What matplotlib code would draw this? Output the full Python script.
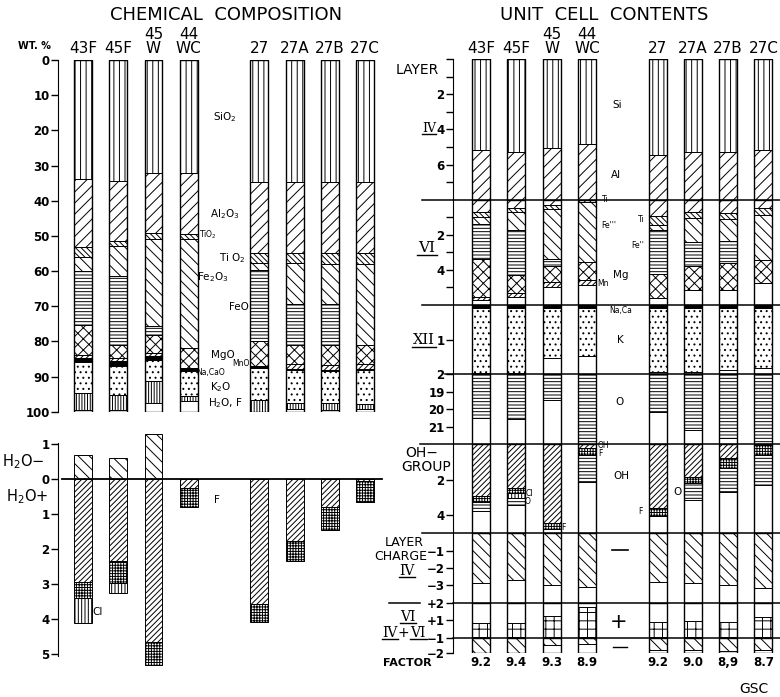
import matplotlib.pyplot as plt
import numpy as np
from matplotlib.ticker import FuncFormatter

W, H = 780, 697

samples = ['43F', '45F', '45\nW', '44\nWC', '27', '27A', '27B', '27C']
xpos = [0, 1, 2, 3, 5, 6, 7, 8]
factor = ['9.2', '9.4', '9.3', '8.9', '9.2', '9.0', '8,9', '8.7']

# chemical composition, wt. % (thickness of each oxide, top to bottom)
sio2 = [33.8, 34.3, 32.1, 32.2, 34.6, 34.7, 34.7, 34.7]
al2o3 = [19.5, 17.1, 17.2, 17.3, 20.2, 20.1, 20.1, 20.1]
tio2 = [2.7, 1.5, 1.7, 1.5, 2.8, 3.0, 3.1, 3.2]
fe2o3 = [4.0, 8.5, 24.5, 30.9, 2.2, 11.7, 11.6, 23.1]
feo = [15.4, 19.7, 2.6, 0.0, 20.2, 11.6, 11.6, 0.0]
mgo = [8.4, 3.7, 5.2, 5.8, 6.9, 5.4, 5.6, 5.4]
mno = [0.8, 0.9, 1.0, 0.3, 0.0, 1.3, 1.4, 1.3]
naca_o = [1.3, 1.4, 1.1, 0.5, 0.7, 0.3, 0.3, 0.3]
k2o = [8.9, 8.1, 6.0, 7.1, 9.1, 9.5, 9.0, 9.6]
h2o_f = [4.7, 4.3, 6.0, 1.4, 3.3, 1.7, 2.1, 1.5]

# water, fluorine, chlorine (wt. %)
h2o_minus = [0.70, 0.61, 1.28, 0.0, 0.0, 0.0, 0.0, 0.0]
h2o_plus = [2.93, 2.33, 4.67, 0.27, 3.57, 1.77, 0.79, 0.07]
fluorine = [0.48, 0.65, 0.64, 0.54, 0.51, 0.56, 0.67, 0.58]
chlorine = [0.71, 0.29, 0.0, 0.0, 0.0, 0.0, 0.0, 0.0]

# unit cell contents
si = [5.18, 5.31, 5.05, 4.84, 5.43, 5.28, 5.28, 5.18]
al_iv = [2.82, 2.69, 2.95, 3.16, 2.57, 2.72, 2.72, 2.82]
al_vi = [0.67, 0.47, 0.31, 0.0, 0.95, 0.67, 0.78, 0.47]
ti = [0.32, 0.25, 0.19, 0.15, 0.47, 0.37, 0.32, 0.38]
fe3 = [0.38, 0.99, 2.90, 3.40, 0.29, 1.36, 1.27, 2.58]
fe2 = [2.00, 2.56, 0.38, 0.0, 2.55, 1.35, 1.23, 0.0]
mg = [2.16, 1.02, 0.89, 1.05, 1.33, 1.37, 1.52, 1.33]
mn = [0.20, 0.25, 0.28, 0.26, 0.0, 0.0, 0.0, 0.0]
na_ca = [0.10, 0.10, 0.10, 0.10, 0.10, 0.10, 0.10, 0.10]
k = [1.87, 1.87, 1.44, 1.37, 1.83, 1.82, 1.78, 1.73]
oxygen = [2.53, 2.59, 1.48, 4.0, 2.18, 3.20, 3.68, 4.0]
oh = [2.91, 2.45, 4.40, 0.20, 3.60, 1.83, 0.80, 0.05]
f_oh = [0.32, 0.28, 0.35, 0.40, 0.43, 0.37, 0.56, 0.57]
cl_oh = [0.0, 0.27, 0.0, 0.0, 0.0, 0.0, 0.0, 0.0]
o_oh = [0.50, 0.42, 0.0, 1.51, 0.0, 0.94, 1.31, 1.68]
charge_iv = [-2.85, -2.69, -2.98, -3.08, -2.79, -2.88, -2.98, -3.17]
charge_vi = [0.86, 0.82, 1.24, 1.74, 0.88, 0.97, 0.91, 1.17]
charge_net = [-2.0, -2.0, -1.47, -1.40, -1.79, -1.77, -1.85, -1.77]

plt.rcParams['font.family'] = ['DejaVu Sans']
plt.rcParams['hatch.linewidth'] = 0.7

fig = plt.figure(figsize=(7.8, 6.97), dpi=100)
BW = 0.51
LX = (-0.709, 8.51)
RX = (-0.793, 8.47)


def px_axes(x0, y0, x1, y1):
    return fig.add_axes([x0 / W, 1 - y1 / H, (x1 - x0) / W, (y1 - y0) / H])


def style(ax, xlim, ylim, major, labels, minor=()):
    ax.set_xlim(*xlim)
    ax.set_ylim(*ylim)
    for s in ('top', 'right', 'bottom'):
        ax.spines[s].set_visible(False)
    ax.patch.set_visible(False)
    ax.set_xticks([])
    ax.set_yticks(major)
    ax.set_yticklabels(labels, fontweight='bold')
    ax.set_yticks(minor, minor=True)
    ax.tick_params(axis='y', which='both', direction='out', length=5,
                   width=1, pad=1, labelsize=8.5)


def stack(ax, layers, start=0.0, sign=1):
    base = np.full(len(xpos), start, float)
    for vals, hatch, color in layers:
        v = sign * np.asarray(vals, float)
        ax.bar(xpos, v, bottom=base, width=BW, color=color, hatch=hatch,
               edgecolor='black', linewidth=0.7)
        base = base + v


def outline(ax, lo, hi):
    ax.bar(xpos, hi - lo, bottom=lo, width=BW, fill=False,
           edgecolor='black', linewidth=1.0)


# ---- chemical composition
ax = px_axes(58, 60, 383, 411.7)
style(ax, LX, (100, 0), range(0, 101, 10), [str(v) for v in range(0, 101, 10)])
stack(ax, [(sio2, '|||', 'white'), (al2o3, '///', 'white'),
           (tio2, '\\' * 6, 'white'), (fe2o3, '\\' * 3, 'white'),
           (feo, '-----', 'white'), (mgo, 'xxx', 'white'),
           (mno, '//////', 'white'), (naca_o, '', 'black'),
           (k2o, '...', 'white'), (h2o_f, '||||||', 'white')])
outline(ax, 0, 100)

# ---- water
axw = px_axes(58, 425, 383, 668)
style(axw, LX, (-5.4, 1.543), [1, 0, -1, -2, -3, -4, -5], [])
axw.yaxis.set_major_formatter(FuncFormatter(lambda v, p: f'{abs(v):.0f}'))
for t in axw.get_yticklabels():
    t.set_fontweight('bold')
axw.spines['left'].set_bounds(-5.05, 1.02)
axw.bar(xpos, h2o_minus, width=BW, color='white', hatch='\\' * 3,
        edgecolor='black', linewidth=0.7)
stack(axw, [(h2o_plus, '//////', 'white'), (fluorine, '++++++', 'white'),
            (chlorine, '|||||', 'white')], sign=-1)
axw.axhline(0, 0.012, 0.997, color='black', lw=1.3)

# ---- unit cell contents
sec = {}
layout = [('iv', 59, 199.8, (8, 0), [2, 4, 6], ['2', '4', '6'], [0, 1, 3, 5, 7]),
          ('vi', 199.8, 305, (6, 0), [2, 4], ['2', '4'], [1, 3, 5]),
          ('xii', 305, 374.3, (2, 0), [1, 2], ['1', '2'], []),
          ('o', 374.3, 444, (22, 18), [19, 20, 21], ['19', '20', '21'], []),
          ('oh', 444, 533.3, (5, 0), [2, 4], ['2', '4'], []),
          ('ch', 533.3, 602.7, (-4, 0), [-1, -2, -3], ['\u22121', '\u22122', '\u22123'], []),
          ('vc', 602.7, 637.7, (0, 2), [2, 1], ['+2', '+1'], []),
          ('tc', 637.7, 653.3, (-2, -1), [-1, -2], ['\u22121', '\u22122'], [])]
for name, y0, y1, ylim, major, labels, minor in layout:
    a = px_axes(453, y0, 780, y1)
    style(a, RX, ylim, major, labels, minor)
    sec[name] = a

stack(sec['iv'], [(si, '|||', 'white'), (al_iv, '///', 'white')])
outline(sec['iv'], 0, 8)
stack(sec['vi'], [(al_vi, '///', 'white'), (ti, '\\' * 6, 'white'),
                  (fe3, '\\' * 3, 'white'), (fe2, '-----', 'white'),
                  (mg, 'xxx', 'white'), (mn, '//////', 'white')])
outline(sec['vi'], 0, 6)
stack(sec['xii'], [(na_ca, '', 'black'), (k, '...', 'white')])
outline(sec['xii'], 0, 2)
stack(sec['o'], [(oxygen, '-----', 'white')], start=18)
outline(sec['o'], 18, 22)
stack(sec['oh'], [(oh, '//////', 'white'), (f_oh, '++++++', 'white'),
                  (cl_oh, '|||||', 'white'), (o_oh, '-----', 'white')])
outline(sec['oh'], 0, 5)
sec['ch'].bar(xpos, charge_iv, width=BW, color='white', hatch='\\' * 3,
              edgecolor='black', linewidth=0.7)
outline(sec['ch'], -4, 0)
sec['vc'].bar(xpos, charge_vi, width=BW, color='white', hatch='++',
              edgecolor='black', linewidth=0.7)
outline(sec['vc'], 0, 2)
sec['tc'].bar(xpos, np.array(charge_net) + 1, bottom=-1, width=BW, color='white',
              hatch='\\' * 3, edgecolor='black', linewidth=0.7)
outline(sec['tc'], -2, -1)

# ---- overlay for headings, labels and divider lines (pixel coordinates)
ov = fig.add_axes([0, 0, 1, 1], zorder=10)
ov.set_xlim(0, W)
ov.set_ylim(H, 0)
ov.axis('off')

for y, x0 in [(199.8, 422), (305, 422), (374.3, 445), (444, 420), (533.3, 422),
              (602.7, 453), (637.7, 453)]:
    ov.plot([x0, 780], [y, y], color='black', lw=1.1)
ov.plot([389, 420], [602.7, 602.7], color='black', lw=1.1)

ov.text(226, 15, 'CHEMICAL  COMPOSITION', fontsize=13, ha='center', va='center')
ov.text(604, 15, 'UNIT  CELL  CONTENTS', fontsize=13, ha='center', va='center')
ov.text(34, 46, 'WT. %', fontsize=7, fontweight='bold', ha='center', va='center')

lx = [83 + 35.25 * p for p in xpos]
rx = [481 + 35.3 * p for p in xpos]
for name, a, b in zip(samples, lx, rx):
    for x in (a, b):
        ov.text(x, 56, name, fontsize=11, ha='center', va='bottom', linespacing=0.95)

small = dict(fontsize=7.5, ha='center', va='center')
tiny = dict(fontsize=5.5, ha='center', va='center')
ov.text(225, 117, 'SiO$_2$', **small)
ov.text(225, 214, 'Al$_2$O$_3$', **small)
ov.text(208, 235, 'TiO$_2$', **tiny)
ov.text(232, 258, 'Ti O$_2$', **small)
ov.text(213, 277, 'Fe$_2$O$_3$', **small)
ov.text(239, 307, 'FeO', **small)
ov.text(223, 355, 'MgO', **small)
ov.text(241, 364, 'MnO', **tiny)
ov.text(211, 372, 'Na,CaO', **tiny)
ov.text(221, 387, 'K$_2$O', **small)
ov.text(225, 403, 'H$_2$O, F', **small)
ov.text(23, 462, 'H$_2$O\u2212', fontsize=10.5, ha='center', va='center')
ov.text(27, 497, 'H$_2$O+', fontsize=10.5, ha='center', va='center')
ov.text(217, 500, 'F', **small)
ov.text(98, 612, 'Cl', **small)

ov.text(617, 105, 'Si', **small)
ov.text(616, 175, 'Al', **small)
ov.text(605, 200, 'Ti', **tiny)
ov.text(609, 226, "Fe'''", **tiny)
ov.text(641, 220, 'Ti', **tiny)
ov.text(638, 245, "Fe''", **tiny)
ov.text(621, 275, 'Mg', **small)
ov.text(603, 284, 'Mn', **tiny)
ov.text(621, 311, 'Na,Ca', **tiny)
ov.text(620, 340, 'K', **small)
ov.text(620, 402, 'O', **small)
ov.text(603, 445, 'OH', **tiny)
ov.text(600, 454, 'F', **tiny)
ov.text(621, 476, 'OH', **small)
ov.text(529, 493, 'Cl', **tiny)
ov.text(528, 502, 'O', **tiny)
ov.text(563, 527, 'F', **tiny)
ov.text(640, 512, 'F', **tiny)
ov.text(678, 492, 'O', **small)
ov.plot([612, 628], [550, 550], color='black', lw=1.2)
ov.text(619, 622, '+', fontsize=15, ha='center', va='center')
ov.plot([613, 627], [647, 647], color='black', lw=1.0)

lab = dict(fontsize=10, ha='center', va='center')
ov.text(417, 70, 'LAYER', **lab)
ov.text(422, 453, 'OH\u2212', **lab)
ov.text(426, 467, 'GROUP', **lab)
ov.text(404, 542, 'LAYER', fontsize=9, ha='center', va='center')
ov.text(401, 556, 'CHARGE', fontsize=9, ha='center', va='center')
ov.text(407, 663, 'FACTOR', fontsize=8, fontweight='bold', ha='center', va='center')
for x, f in zip(rx, factor):
    ov.text(x, 662, f, fontsize=8.5, fontweight='bold', ha='center', va='center')
ov.text(754, 689, 'GSC', fontsize=10, ha='center', va='center')


def roman(x, y, s, size, w):
    ov.text(x, y, s, family='DejaVu Serif', fontsize=size, ha='center', va='center')
    ov.plot([x - w / 2, x + w / 2], [y + size * 0.62, y + size * 0.62],
            color='black', lw=1.0)


roman(429, 128, 'IV', 9, 14)
roman(427, 248, 'VI', 11, 20)
roman(424, 340, 'XII', 10.5, 24)
roman(407, 571, 'IV', 10, 16)
roman(408, 617, 'VI', 10, 16)
roman(390, 633, 'IV', 10, 16)
ov.text(403, 633, '+', fontsize=10, ha='center', va='center')
roman(418, 633, 'VI', 10, 17)

fig.savefig('out.png', dpi=100)
